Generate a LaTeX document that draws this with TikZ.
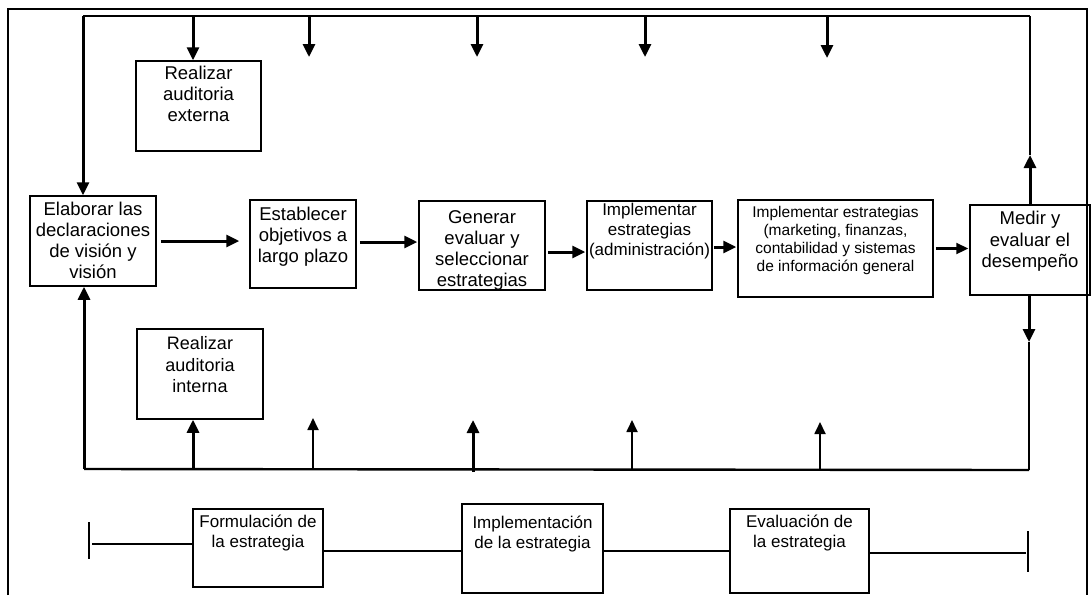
\documentclass[tikz,border=0pt]{standalone}
\usepackage{fontspec}
\setmainfont{Liberation Sans}
\usetikzlibrary{arrows.meta}
\begin{document}
\begin{tikzpicture}[x=1pt,y=-1pt,
 box/.style={draw, line width=1.5pt, inner sep=0pt},
 lbl/.style={align=center, inner sep=0pt, font=\fontsize{18.5}{21}\selectfont},
 arr/.style={-{Triangle[length=13pt,width=12pt]}, line width=3pt},
 tarr/.style={-{Triangle[length=12pt,width=11pt]}, line width=1.8pt},
 fline/.style={line width=2.4pt},
 thinl/.style={line width=1.5pt}]
\useasboundingbox (0,0) rectangle (1091,595);
\draw[line width=1.2pt] (8,595) -- (8,9) -- (1087,9) -- (1087,595);
% boxes
\node[box, minimum width=125pt, minimum height=90pt] (ext) at (198.5,106) {};
\node[box, minimum width=126pt, minimum height=90pt] (elab) at (93,241) {};
\node[box, minimum width=106pt, minimum height=88pt] (estab) at (303,244) {};
\node[box, minimum width=126pt, minimum height=89pt] (gen) at (482,245.5) {};
\node[box, minimum width=125pt, minimum height=89pt] (impA) at (649.5,245.5) {};
\node[box, minimum width=195pt, minimum height=97pt] (imp2) at (835.5,248.5) {};
\node[box, minimum width=120pt, minimum height=90pt] (medir) at (1030,250) {};
\node[box, minimum width=126pt, minimum height=90pt] (int) at (200,374) {};
\node[box, minimum width=130pt, minimum height=78pt] (form) at (258,548) {};
\node[box, minimum width=141pt, minimum height=89pt] (impl) at (532.5,548.5) {};
\node[box, minimum width=139pt, minimum height=84pt] (eval) at (799.5,551) {};
% labels
\node[lbl, anchor=north] (extT) at ([yshift=-6pt]ext.north) {Realizar\\auditoria\\externa};
\node[lbl, anchor=north] (elabT) at ([yshift=-7pt]elab.north) {Elaborar las\\declaraciones\\de visión y\\visión};
\node[lbl, anchor=north] (estabT) at ([yshift=-8pt]estab.north) {Establecer\\objetivos a\\largo plazo};
\node[lbl, anchor=north] (genT) at ([yshift=-10pt]gen.north) {Generar\\evaluar y\\seleccionar\\estrategias};
\node[lbl, anchor=north, font=\fontsize{17}{20}\selectfont] (impAT) at ([yshift=-3pt]impA.north) {Implementar\\estrategias\\(administración)};
\node[lbl, anchor=north, font=\fontsize{15.5}{18}\selectfont] (imp2T) at ([yshift=-7pt]imp2.north) {Implementar estrategias\\(marketing, finanzas,\\contabilidad y sistemas\\de información general};
\node[lbl, anchor=north, font=\fontsize{18.5}{21.5}\selectfont] (medirT) at ([yshift=-7pt]medir.north) {Medir y\\evaluar el\\desempeño};
\node[lbl, anchor=north, font=\fontsize{18}{21.5}\selectfont] (intT) at ([yshift=-8pt]int.north) {Realizar\\auditoria\\interna};
\node[lbl, anchor=north, font=\fontsize{17}{20}\selectfont] (formT) at ([yshift=-7pt]form.north) {Formulación de\\la estrategia};
\node[lbl, anchor=north, font=\fontsize{17}{20}\selectfont] (implT) at ([yshift=-13pt]impl.north) {Implementación\\de la estrategia};
\node[lbl, anchor=north, font=\fontsize{17}{20}\selectfont] (evalT) at ([yshift=-7pt]eval.north) {Evaluación de\\la estrategia};
% main chain
\draw[arr, shorten <=4pt, shorten >=10pt] (elab.east) -- (elab.east -| estab.west);
\draw[arr, shorten <=3pt, shorten >=1pt] ([yshift=2pt]estab.east) -- ([yshift=2pt]estab.east -| gen.west);
\draw[arr, shorten <=2pt, shorten >=1pt] ([yshift=-6.5pt]gen.east) -- ([yshift=-6.5pt]gen.east -| impA.west);
\draw[arr, shorten <=1pt, shorten >=1pt] ([yshift=-1.5pt]impA.east) -- ([yshift=-1.5pt]impA.east -| imp2.west);
\draw[tarr, line width=2.2pt, shorten <=2pt, shorten >=1pt] (imp2.east) -- (imp2.east -| medir.west);
% top feedback
\coordinate (tl) at (83,16);
\coordinate (tr) at (1030,16);
\draw[fline] (tl) -- (tr);
\draw[arr] (tl) -- (tl |- elab.north);
\coordinate (d0) at (193,61);
\coordinate (d1) at (309,57);
\coordinate (d2) at (477,57);
\coordinate (d3) at (645,57);
\coordinate (d4) at (827,58);
\draw[arr] (d0 |- tl) -- (d0 |- ext.north);
\draw[arr] (d1 |- tl) -- (d1);
\draw[arr] (d2 |- tl) -- (d2);
\draw[arr] (d3 |- tl) -- (d3);
\draw[arr] (d4 |- tl) -- (d4);
\coordinate (ru) at (1030,155);
\draw[arr] (ru |- medir.north) -- (ru);
\draw[thinl] (ru) -- (tr);
% bottom feedback
\coordinate (rd) at (1029,342);
\coordinate (br) at (1029,470);
\coordinate (bl) at (84,469);
\draw[arr] (rd |- medir.south) -- (rd);
\draw[thinl] (rd) -- (br);
\draw[fline] (bl) -- (br);
\draw[arr] (bl) -- (bl |- elab.south);
\coordinate (u0) at (193,419);
\coordinate (u1) at (313,418);
\coordinate (u2) at (473,420);
\coordinate (u3) at (632,420);
\coordinate (u4) at (820,422);
\draw[arr] (u0 |- bl) -- (u0 |- int.south);
\draw[tarr] (u1 |- bl) -- (u1);
\draw[arr] ([yshift=-3pt]u2 |- bl) -- (u2);
\draw[tarr] (u3 |- bl) -- (u3);
\draw[tarr] (u4 |- bl) -- (u4);
% phase line
\coordinate (tLa) at (89,522);
\coordinate (tLb) at (89,559);
\coordinate (tL) at (92,544);
\draw[line width=1.8pt] (tLa) -- (tLb);
\draw[thinl] (tL) -- (tL -| form.west);
\coordinate (m1) at (0,551);
\coordinate (m2) at (0,551);
\draw[thinl] (form.east |- m1) -- (impl.west |- m1);
\draw[thinl] (impl.east |- m2) -- (eval.west |- m2);
\coordinate (tRa) at (1028,531);
\coordinate (tRb) at (1028,572);
\coordinate (tR) at (1026,553);
\draw[line width=1.8pt] (tRa) -- (tRb);
\draw[thinl] (eval.east |- tR) -- (tR);
\end{tikzpicture}
\end{document}
